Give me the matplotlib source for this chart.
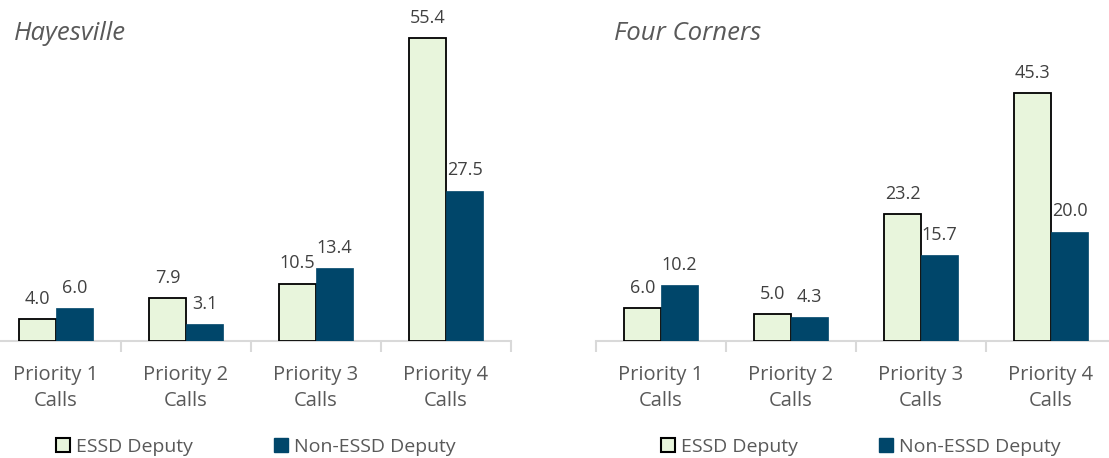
import matplotlib
matplotlib.use("Agg")
import matplotlib.pyplot as plt
from matplotlib.patches import Patch
import numpy as np

categories = ["Priority 1\nCalls", "Priority 2\nCalls", "Priority 3\nCalls", "Priority 4\nCalls"]
titles = ["Hayesville", "Four Corners"]
essd = [[4.0, 7.9, 10.5, 55.4], [6.0, 5.0, 23.2, 45.3]]
non_essd = [[6.0, 3.1, 13.4, 27.5], [10.2, 4.3, 15.7, 20.0]]
series_names = ["ESSD Deputy", "Non-ESSD Deputy"]

plt.rcParams['font.family'] = ['Open Sans', 'DejaVu Sans']
W, H = 1109, 458
fig = plt.figure(figsize=(W / 100, H / 100), dpi=100)

light = "#E8F5DC"
dark = "#00466A"
gray_txt = "#595959"
lab_txt = "#404040"
axis_col = "#D9D9D9"

# axes pixel geometry: (left, right) in px, baseline y=341, top y=0
axes_px = [(-9, 511), (596, 1116)]
base_y = 341
bw = 0.285
for i, (x0, x1) in enumerate(axes_px):
    ax = fig.add_axes([x0 / W, 1 - base_y / H, (x1 - x0) / W, base_y / H])
    x = np.arange(len(categories))
    b1 = ax.bar(x - bw / 2, essd[i], bw, color=light, edgecolor="black", linewidth=1.3, zorder=3)
    b2 = ax.bar(x + bw / 2, non_essd[i], bw, color=dark, edgecolor=dark, linewidth=0.5, zorder=3)
    for bars, vals in ((b1, essd[i]), (b2, non_essd[i])):
        for r, v in zip(bars, vals):
            ax.annotate(f"{v:.1f}", (r.get_x() + r.get_width() / 2, v), xytext=(0, 8),
                        textcoords="offset points", ha="center", va="bottom",
                        fontsize=13, color=lab_txt)
    ax.set_xlim(-0.5, 3.5)
    ax.set_ylim(0, base_y / 5.47)
    for s in ("top", "right", "left"):
        ax.spines[s].set_visible(False)
    ax.spines["bottom"].set_color(axis_col)
    ax.spines["bottom"].set_linewidth(1.5)
    ax.set_yticks([])
    ax.set_xticks(x)
    ax.set_xticklabels(categories, fontsize=14.5, color=gray_txt, linespacing=1.45)
    ax.tick_params(axis="x", which="major", length=0, pad=17)
    ax.set_xticks(np.arange(-0.5, 4.0, 1.0), minor=True)
    ax.tick_params(axis="x", which="minor", length=8, width=1.5, color=axis_col, direction="out")
    ax.patch.set_alpha(0)
    fig.text((14 if i == 0 else 614) / W, 1 - 34 / H, titles[i], fontsize=18.5, style="italic",
             color=gray_txt, ha="left", va="center")
    handles = [Patch(facecolor=light, edgecolor="black", linewidth=1.5),
               Patch(facecolor=dark, edgecolor=dark)]
    fig.legend(handles, series_names, loc="center",
               bbox_to_anchor=((256 if i == 0 else 861) / W, 1 - 447 / H),
               ncol=2, frameon=False, fontsize=14, labelcolor=gray_txt,
               handlelength=0.7, handleheight=0.7, handletextpad=0.3, columnspacing=4.2)

fig.savefig("out.png", dpi=100)
